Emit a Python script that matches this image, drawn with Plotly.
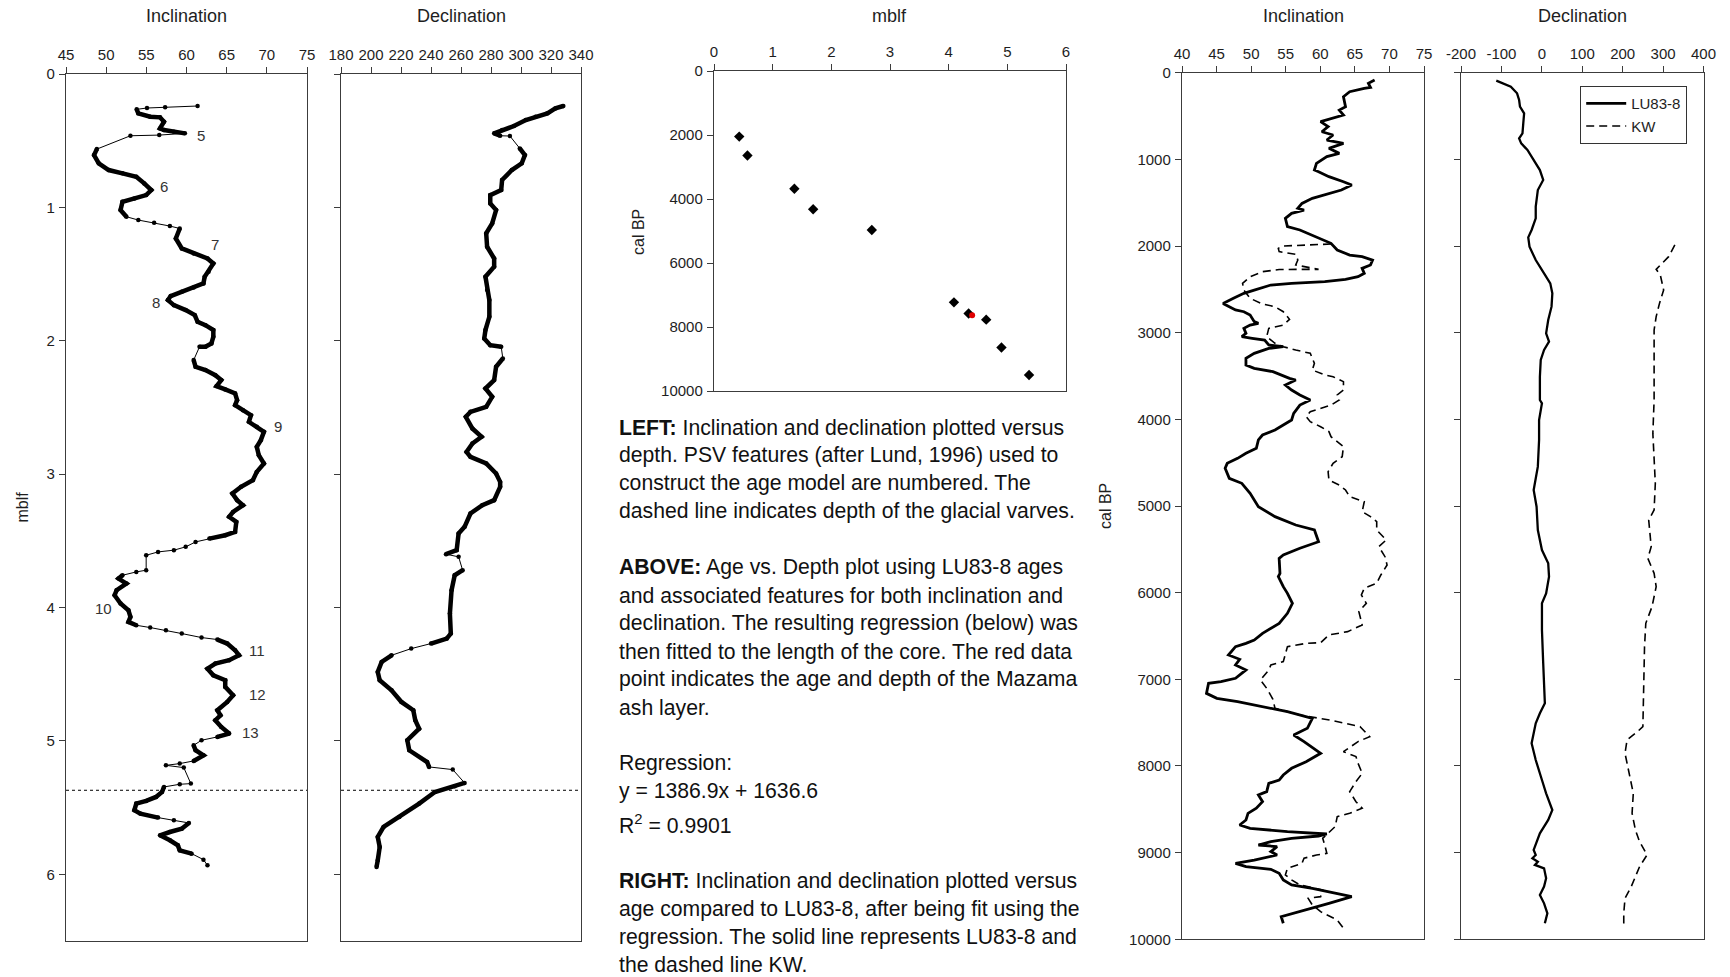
import plotly.graph_objects as go

W, H = 1730, 977

# ---------------- LEFT: inclination vs depth ----------------
inc_depth = [0.240, 0.250, 0.255, 0.265, 0.295, 0.320, 0.325, 0.358, 0.408, 0.420,
             0.433, 0.445, 0.458, 0.463, 0.563, 0.608, 0.670, 0.720, 0.745, 0.770,
             0.820, 0.870, 0.908, 0.933, 0.958, 1.020, 1.070, 1.095, 1.115, 1.140,
             1.158, 1.233, 1.308, 1.345, 1.383, 1.420, 1.483, 1.520, 1.570, 1.600,
             1.633, 1.665, 1.695, 1.733, 1.770, 1.808, 1.858, 1.883, 1.920, 1.970,
             2.020, 2.045, 2.045, 2.145, 2.195, 2.220, 2.258, 2.295, 2.340, 2.365,
             2.395, 2.445, 2.483, 2.520, 2.558, 2.608, 2.645, 2.683, 2.745, 2.795,
             2.858, 2.920, 2.983, 3.045, 3.095, 3.145, 3.195, 3.233, 3.283, 3.320,
             3.358, 3.433, 3.458, 3.483, 3.508, 3.545, 3.570, 3.583, 3.608, 3.720,
             3.733, 3.758, 3.783, 3.820, 3.870, 3.908, 3.970, 4.020, 4.070, 4.108,
             4.133, 4.150, 4.170, 4.195, 4.225, 4.240, 4.270, 4.320, 4.358, 4.395,
             4.420, 4.458, 4.508, 4.545, 4.595, 4.658, 4.708, 4.770, 4.808, 4.845,
             4.895, 4.945, 4.970, 4.995, 5.033, 5.070, 5.108, 5.150, 5.170, 5.183,
             5.200, 5.320, 5.325, 5.345, 5.383, 5.420, 5.450, 5.470, 5.520, 5.545,
             5.575, 5.595, 5.615, 5.658, 5.683, 5.708, 5.745, 5.783, 5.820, 5.845,
             5.890, 5.933]
inc_value = [61.38, 57.34, 55.08, 53.80, 54.00, 55.48, 56.70, 57.20, 56.70, 57.20,
             58.43, 59.80, 56.61, 53.02, 48.84, 48.49, 49.08, 50.31, 52.03, 53.75,
             54.74, 55.62, 54.98, 53.51, 52.03, 51.79, 52.52, 54.00, 55.97, 57.93,
             59.16, 58.67, 59.41, 60.89, 62.61, 63.34, 62.75, 62.26, 62.11, 60.89,
             59.41, 58.03, 57.69, 58.43, 59.90, 61.03, 61.38, 62.36, 63.34, 63.34,
             63.10, 62.36, 61.62, 60.89, 61.13, 62.36, 63.59, 64.33, 63.74, 64.82,
             66.05, 66.30, 66.05, 67.03, 68.02, 67.77, 68.75, 69.64, 69.25, 68.75,
             69.00, 69.64, 68.75, 68.26, 66.79, 65.71, 66.30, 67.03, 65.80, 65.31,
             66.20, 66.05, 64.82, 62.85, 61.13, 59.90, 58.43, 56.46, 54.98, 54.98,
             53.75, 52.03, 51.54, 52.52, 51.30, 51.05, 51.79, 52.77, 53.02, 52.77,
             53.75, 55.48, 57.44, 59.41, 61.87, 63.84, 65.07, 66.05, 66.54, 65.31,
             63.59, 62.61, 63.34, 64.82, 64.82, 65.80, 65.07, 63.84, 64.23, 63.59,
             64.33, 65.31, 63.84, 61.87, 60.89, 61.13, 62.11, 60.89, 59.16, 57.44,
             59.66, 60.54, 59.16, 57.20, 56.95, 56.21, 54.98, 53.75, 53.51, 54.25,
             56.46, 58.43, 60.30, 59.41, 57.93, 56.70, 57.93, 58.92, 59.16, 60.64,
             62.11, 62.61]
# segments (start index) drawn as thin connector between sparse samples
inc_thin = [0, 1, 2, 11, 12, 13, 26, 27, 28, 29, 52, 83, 84, 85, 86, 87, 88, 89, 90,
            100, 101, 102, 103, 104, 122, 123, 127, 128, 129, 130, 131, 132, 140, 141,
            149, 150]

# ---------------- LEFT: declination vs depth ----------------
dec_depth = [0.240, 0.258, 0.295, 0.320, 0.345, 0.390, 0.420, 0.445, 0.463, 0.465,
             0.558, 0.608, 0.670, 0.720, 0.795, 0.870, 0.908, 0.970, 1.020, 1.120,
             1.195, 1.295, 1.383, 1.445, 1.520, 1.620, 1.695, 1.820, 1.920, 1.983,
             2.033, 2.045, 2.133, 2.195, 2.295, 2.358, 2.420, 2.495, 2.533, 2.570,
             2.658, 2.720, 2.770, 2.833, 2.870, 2.920, 2.995, 3.058, 3.095, 3.195,
             3.233, 3.295, 3.395, 3.445, 3.570, 3.600, 3.620, 3.720, 3.758, 3.870,
             4.045, 4.195, 4.233, 4.270, 4.308, 4.358, 4.408, 4.483, 4.545, 4.620,
             4.708, 4.770, 4.845, 4.908, 4.995, 5.070, 5.158, 5.195, 5.215, 5.315,
             5.340, 5.383, 5.470, 5.570, 5.645, 5.720, 5.795, 5.895, 5.945]
dec_value = [328.2, 322.9, 317.6, 309.7, 303.2, 295.3, 287.4, 282.1, 286.1, 292.6,
             299.2, 302.6, 300.5, 293.9, 287.4, 286.8, 279.5, 279.5, 283.4, 280.8,
             276.8, 277.4, 282.1, 282.1, 276.3, 277.4, 278.9, 278.9, 276.3, 275.5,
             279.5, 286.8, 287.9, 283.4, 282.1, 276.3, 280.8, 276.8, 266.3, 263.2,
             267.6, 273.7, 267.6, 263.7, 266.3, 276.8, 283.4, 286.1, 286.1, 282.1,
             274.2, 266.3, 262.4, 258.4, 257.1, 250.0, 258.4, 261.1, 255.8, 253.7,
             252.6, 253.2, 250.5, 240.0, 226.8, 213.7, 207.1, 204.5, 205.8, 213.7,
             220.3, 228.2, 229.5, 232.1, 224.2, 225.5, 237.4, 238.7, 254.5, 262.4,
             255.8, 242.6, 232.1, 218.9, 208.4, 204.5, 205.8, 204.5, 203.7]
dec_thin = [8, 9, 31, 55, 56, 63, 64, 77, 78]

varve_depth = 5.37

feature_labels = ["5", "6", "7", "8", "9", "10", "11", "12", "13"]
feature_inc = [61.8, 57.2, 63.5, 56.2, 71.4, 49.7, 68.75, 68.85, 68.0]
feature_depth = [0.458, 0.84, 1.28, 1.71, 2.64, 4.008, 4.325, 4.65, 4.94]

# ---------------- MIDDLE: age vs depth ----------------
tie_depth = [0.43, 0.57, 1.37, 1.69, 2.69, 4.09, 4.34, 4.64, 4.90, 5.37]
tie_age = [2050, 2640, 3680, 4320, 4970, 7230, 7580, 7770, 8640, 9500]
mazama_depth = [4.40]
mazama_age = [7630]

# ---------------- RIGHT: inclination vs age ----------------
lu_inc_age = [85, 123, 169, 181, 219, 277, 392, 431, 488, 527, 565, 623, 681, 719, 777,
              815, 873, 931, 969, 1046, 1123, 1142, 1200, 1258, 1296, 1354, 1392, 1450,
              1508, 1565, 1585, 1623, 1681, 1777, 1815, 1873, 1931, 1969, 2046, 2104,
              2123, 2162, 2219, 2258, 2315, 2354, 2385, 2412, 2431, 2450, 2508, 2546,
              2604, 2662, 2700, 2738, 2758, 2796, 2873, 2892, 2912, 2950, 3008, 3046,
              3065, 3085, 3142, 3162, 3181, 3238, 3296, 3373, 3412, 3450, 3527, 3546,
              3604, 3662, 3719, 3777, 3835, 3931, 4008, 4065, 4123, 4181, 4238, 4335,
              4392, 4450, 4508, 4565, 4681, 4738, 4854, 5008, 5123, 5219, 5277, 5412,
              5488, 5565, 5604, 5777, 5815, 5931, 6008, 6123, 6238, 6354, 6469, 6546,
              6585, 6623, 6719, 6769, 6835, 6892, 6988, 7027, 7046, 7162, 7219, 7258,
              7315, 7373, 7450, 7565, 7642, 7719, 7854, 7950, 8027, 8104, 8162, 8200,
              8296, 8335, 8412, 8488, 8546, 8623, 8681, 8719, 8758, 8785, 8808, 8835,
              8873, 8912, 8931, 8988, 9027, 9085, 9123, 9162, 9192, 9238, 9315, 9373,
              9412, 9450, 9508, 9585, 9662, 9738, 9815]
lu_inc = [67.86, 66.96, 67.26, 66.36, 64.25, 63.35, 63.65, 62.75, 63.35, 61.85, 60.05,
          61.13, 60.23, 61.85, 60.95, 63.35, 61.25, 62.75, 60.95, 59.45, 59.15, 59.75,
          61.25, 63.35, 64.55, 63.05, 61.25, 58.85, 57.35, 56.75, 57.65, 55.85, 54.95,
          55.25, 57.05, 58.85, 60.65, 61.55, 62.45, 64.25, 66.05, 67.56, 67.26, 66.05,
          66.36, 65.46, 63.65, 60.65, 55.85, 52.85, 50.45, 48.95, 47.44, 45.94, 46.84,
          47.74, 48.95, 49.85, 50.45, 51.05, 49.85, 48.95, 49.25, 48.65, 50.15, 51.95,
          52.55, 54.65, 52.55, 50.45, 49.25, 49.25, 50.45, 53.15, 55.55, 56.45, 54.95,
          55.85, 57.05, 58.55, 57.05, 56.15, 55.85, 54.65, 53.45, 51.65, 51.05, 50.75,
          49.25, 48.04, 46.54, 46.24, 46.84, 48.65, 49.85, 51.05, 53.45, 56.45, 59.15,
          59.75, 57.05, 54.65, 54.05, 54.17, 53.93, 54.65, 55.25, 55.97, 55.25, 54.05,
          51.65, 50.45, 49.25, 47.74, 46.72, 48.34, 47.74, 49.25, 47.74, 45.64, 43.84,
          43.54, 45.04, 48.04, 51.65, 55.25, 58.85, 58.13, 56.15, 57.65, 60.05, 57.95,
          55.85, 54.65, 54.05, 52.55, 52.25, 51.05, 51.65, 50.75, 49.55, 49.25, 48.34,
          49.85, 55.25, 60.95, 59.75, 55.85, 52.85, 51.05, 53.75, 52.85, 53.75, 50.45,
          47.74, 49.25, 52.85, 54.05, 54.65, 55.85, 58.85, 61.25, 64.55, 61.25, 57.65,
          54.35, 54.65]

kw_inc_age = [1977, 1988, 1996, 2000, 2027, 2065, 2096, 2162, 2219, 2238, 2269, 2270,
              2271, 2296, 2354, 2431, 2508, 2604, 2669, 2700, 2758, 2846, 2912, 2950,
              3046, 3123, 3162, 3200, 3238, 3354, 3431, 3488, 3508, 3565, 3662, 3719,
              3777, 3835, 3873, 3912, 3969, 4027, 4085, 4142, 4200, 4258, 4315, 4431,
              4508, 4604, 4700, 4758, 4815, 4892, 4950, 5065, 5123, 5181, 5277, 5392,
              5469, 5585, 5681, 5796, 5892, 5950, 6027, 6123, 6219, 6373, 6450, 6488,
              6577, 6585, 6623, 6796, 6835, 6892, 7008, 7104, 7231, 7335, 7412, 7477,
              7546, 7662, 7719, 7835, 7892, 7969, 8085, 8181, 8296, 8412, 8488, 8546,
              8585, 8700, 8835, 8912, 9008, 9027, 9065, 9123, 9181, 9258, 9315, 9373,
              9431, 9508, 9527, 9604, 9681, 9777, 9873]
kw_inc = [61.55, 58.55, 56.45, 54.65, 53.93, 54.05, 56.45, 56.75, 56.45, 57.95, 59.75,
          56.45, 54.05, 51.65, 49.85, 48.76, 48.95, 49.85, 51.65, 53.45, 54.65, 55.55,
          54.65, 52.55, 52.25, 53.45, 54.65, 56.45, 58.55, 59.15, 58.85, 60.65, 61.85,
          63.35, 63.35, 62.45, 62.75, 61.55, 60.05, 58.55, 57.95, 58.55, 60.05, 61.25,
          61.55, 62.45, 63.35, 63.17, 61.85, 61.13, 61.25, 62.75, 63.65, 64.25, 66.36,
          66.06, 67.26, 68.16, 68.16, 69.54, 68.46, 69.36, 69.66, 68.76, 68.16, 66.36,
          65.94, 66.66, 65.58, 66.06, 63.95, 61.25, 60.05, 57.95, 55.25, 54.65, 52.85,
          52.55, 51.35, 52.25, 53.15, 53.45, 57.05, 61.85, 65.76, 67.14, 65.46, 63.35,
          65.16, 65.46, 66.06, 65.16, 64.25, 65.16, 66.06, 64.25, 62.45, 62.15, 60.35,
          60.65, 60.95, 59.45, 57.65, 57.35, 55.25, 54.95, 55.85, 57.05, 60.35, 60.05,
          58.25, 58.85, 60.05, 62.45, 63.35]

# ---------------- RIGHT: declination vs age ----------------
lu_dec_age = [92, 123, 162, 238, 315, 392, 469, 585, 700, 758, 815, 892, 1008, 1123,
              1238, 1354, 1546, 1681, 1815, 1900, 2008, 2162, 2315, 2431, 2546, 2700,
              2854, 3008, 3104, 3200, 3315, 3508, 3777, 3815, 4008, 4238, 4546, 4662,
              4815, 5008, 5277, 5508, 5662, 5815, 6008, 6123, 6431, 6815, 7277, 7392,
              7508, 7738, 7931, 8162, 8315, 8508, 8623, 8777, 8892, 8969, 9027, 9065,
              9104, 9142, 9181, 9296, 9392, 9488, 9585, 9700, 9815]
lu_dec = [-112.7, -97.3, -76.7, -61.3, -56.2, -54.1, -43.8, -45.9, -47.9, -56.2, -51.0,
          -35.6, -20.2, -4.8, 3.4, -9.9, -15.1, -15.1, -25.3, -33.6, -30.5, -15.1, 5.5,
          20.9, 26.0, 24.0, 15.8, 10.6, 17.8, 5.5, -2.7, -4.8, -4.8, 0.3, -6.8, -6.8,
          -9.9, -15.1, -20.2, -13.0, -9.9, 0.3, 15.8, 17.8, 10.6, 0.3, 0.3, 3.4, 7.5,
          -4.8, -15.1, -25.3, -15.1, 0.3, 10.6, 26.0, 15.8, -4.8, -15.1, -20.2, -15.1,
          -23.3, -9.9, -17.1, 5.5, 10.6, 5.5, -4.8, 5.5, 13.7, 7.5]

kw_dec_age = [1988, 2123, 2269, 2335, 2508, 2662, 2815, 2969, 3392, 3777, 4162, 4546,
              4738, 5046, 5162, 5469, 5604, 5777, 5931, 6162, 6354, 6623, 7008, 7546,
              7604, 7700, 7854, 8085, 8315, 8546, 8738, 8873, 9027, 9162, 9392, 9527,
              9700, 9873]
kw_dec = [329.1, 313.7, 282.9, 293.2, 301.4, 291.1, 282.9, 277.8, 277.8, 277.8, 274.7,
          277.8, 280.8, 277.8, 264.4, 270.6, 262.3, 277.8, 282.9, 272.6, 257.2, 254.1,
          252.1, 250.0, 236.6, 210.9, 205.8, 216.1, 226.3, 223.3, 231.5, 241.8, 260.3,
          241.8, 221.2, 205.8, 202.7, 202.7]

dec_age_ticks = [-200, -100, 0, 100, 200, 300, 400]
dec_age_ticktext = ["-200", "-100", "0", "100", "200", "300", "400"]

# ---------------- text ----------------
caption_lines = [
    ("<b>LEFT:</b> Inclination and declination plotted versus", 427.6),
    ("depth. PSV features (after Lund, 1996) used to", 455.2),
    ("construct the age model are numbered. The", 483.4),
    ("dashed line indicates depth of the glacial varves.", 511.2),
    ("<b>ABOVE:</b> Age vs. Depth plot using LU83-8 ages", 567.4),
    ("and associated features for both inclination and", 595.0),
    ("declination. The resulting regression (below) was", 623.4),
    ("then fitted to the length of the core. The red data", 651.6),
    ("point indicates the age and depth of the Mazama", 679.4),
    ("ash layer.", 707.8),
    ("Regression:", 763.4),
    ("y = 1386.9x + 1636.6", 790.6),
    ("R<sup>2</sup> = 0.9901", 824.0),
    ("<b>RIGHT:</b> Inclination and declination plotted versus", 881.0),
    ("age compared to LU83-8, after being fit using the", 909.4),
    ("regression. The solid line represents LU83-8 and", 937.2),
    ("the dashed line KW.", 964.6),
]

FONT = "Liberation Sans, Arial, sans-serif"
AX = "#3c3c3c"
TXT = "#1e1e1e"


def dom_x(a, b):
    return [a / W, b / W]


def dom_y(top, bottom):
    return [1 - bottom / H, 1 - top / H]


def split_thick(xs, ys, thin):
    bx, by = [], []
    for i in range(len(xs)):
        bx.append(xs[i])
        by.append(ys[i])
        if i in thin:
            bx.append(None)
            by.append(None)
    return bx, by


fig = go.Figure()

# panel 1
tx, ty = split_thick(inc_value, inc_depth, set(inc_thin))
fig.add_trace(go.Scatter(x=inc_value, y=inc_depth, mode="lines+markers",
                         line=dict(color="black", width=1),
                         marker=dict(color="black", size=4.5),
                         xaxis="x", yaxis="y", showlegend=False, hoverinfo="skip"))
fig.add_trace(go.Scatter(x=tx, y=ty, mode="lines", line=dict(color="black", width=4.5),
                         xaxis="x", yaxis="y", showlegend=False, hoverinfo="skip"))
# panel 2
tx, ty = split_thick(dec_value, dec_depth, set(dec_thin))
fig.add_trace(go.Scatter(x=dec_value, y=dec_depth, mode="lines+markers",
                         line=dict(color="black", width=1),
                         marker=dict(color="black", size=4.5),
                         xaxis="x2", yaxis="y2", showlegend=False, hoverinfo="skip"))
fig.add_trace(go.Scatter(x=tx, y=ty, mode="lines", line=dict(color="black", width=4.5),
                         xaxis="x2", yaxis="y2", showlegend=False, hoverinfo="skip"))
# panel 3
fig.add_trace(go.Scatter(x=tie_depth, y=tie_age, mode="markers",
                         marker=dict(symbol="diamond", color="black", size=8),
                         xaxis="x3", yaxis="y3", showlegend=False))
fig.add_trace(go.Scatter(x=mazama_depth, y=mazama_age, mode="markers",
                         marker=dict(symbol="circle", color="#e00000", size=6),
                         xaxis="x3", yaxis="y3", showlegend=False))
# panel 4
fig.add_trace(go.Scatter(x=kw_inc, y=kw_inc_age, mode="lines", name="KW",
                         line=dict(color="black", width=1.6, dash="8px,5px"),
                         xaxis="x4", yaxis="y4", showlegend=False))
fig.add_trace(go.Scatter(x=lu_inc, y=lu_inc_age, mode="lines", name="LU83-8",
                         line=dict(color="black", width=2.8),
                         xaxis="x4", yaxis="y4", showlegend=True, legendrank=1))
# panel 5
fig.add_trace(go.Scatter(x=lu_dec, y=lu_dec_age, mode="lines", name="LU83-8",
                         line=dict(color="black", width=2.3),
                         xaxis="x5", yaxis="y5", showlegend=False))
fig.add_trace(go.Scatter(x=kw_dec, y=kw_dec_age, mode="lines", name="KW",
                         line=dict(color="black", width=1.6, dash="8px,5px"),
                         xaxis="x5", yaxis="y5", showlegend=True, legendrank=2))

tickfont = dict(family=FONT, size=15, color=TXT)


def xax(domain, rng, dtick, anchor):
    return dict(domain=domain, range=rng, dtick=dtick, tick0=rng[0], side="top",
                anchor=anchor, ticks="outside", ticklen=6, tickcolor=AX, tickwidth=1.2,
                showline=True, linecolor=AX, linewidth=1.4, mirror=True,
                showgrid=False, zeroline=False, tickfont=tickfont, automargin=False,
                ticklabelstandoff=1, fixedrange=True, tickformat="d")


def yax(domain, rng, dtick, anchor, labels=True):
    return dict(domain=domain, range=rng, dtick=dtick, tick0=0, anchor=anchor,
                ticks="outside", ticklen=6, tickcolor=AX, tickwidth=1.2,
                showline=True, linecolor=AX, linewidth=1.4, mirror=True,
                showgrid=False, zeroline=False, tickfont=tickfont, automargin=False,
                showticklabels=labels, ticklabelstandoff=1, fixedrange=True,
                tickformat="d")


yL = dom_y(74, 941)
yR = dom_y(72.7, 939.3)
x5 = xax(dom_x(1461, 1703.5), [-200, 400], 100, "y5")
x5.update(tickmode="array", tickvals=dec_age_ticks, ticktext=dec_age_ticktext)
fig.update_layout(
    width=W, height=H,
    margin=dict(l=0, r=0, t=0, b=0, autoexpand=False),
    paper_bgcolor="white", plot_bgcolor="white",
    font=dict(family=FONT, color=TXT),
    xaxis=xax(dom_x(66, 307), [45, 75], 5, "y"),
    yaxis=yax(yL, [6.5, 0], 1, "x"),
    xaxis2=xax(dom_x(341, 581), [180, 340], 20, "y2"),
    yaxis2=yax(yL, [6.5, 0], 1, "x2", labels=False),
    xaxis3=xax(dom_x(714, 1066), [0, 6], 1, "y3"),
    yaxis3=yax(dom_y(71, 391), [10000, 0], 2000, "x3"),
    xaxis4=xax(dom_x(1182, 1424), [40, 75], 5, "y4"),
    yaxis4=yax(yR, [10000, 0], 1000, "x4"),
    xaxis5=x5,
    yaxis5=yax(yR, [10000, 0], 1000, "x5", labels=False),
    legend=dict(x=1580 / W, y=1 - 86 / H, xanchor="left", yanchor="top",
                bordercolor="#333", borderwidth=1.2, bgcolor="white",
                font=dict(family=FONT, size=15, color=TXT), itemwidth=40,
                tracegroupgap=0),
    shapes=[
        dict(type="line", xref="x domain", yref="y", x0=0, x1=1, y0=varve_depth,
             y1=varve_depth, line=dict(color="black", width=1, dash="dot")),
        dict(type="line", xref="x2 domain", yref="y2", x0=0, x1=1, y0=varve_depth,
             y1=varve_depth, line=dict(color="black", width=1, dash="dot")),
    ],
)

ann = []
# panel titles
for text, cx in [("Inclination", 186.5), ("Declination", 461), ("mblf", 889),
                 ("Inclination", 1303), ("Declination", 1582)]:
    ann.append(dict(text=text, x=cx / W, y=1 - 16 / H, xref="paper", yref="paper",
                    showarrow=False, xanchor="center", yanchor="middle",
                    font=dict(family=FONT, size=18, color=TXT)))
for text, cx, cy in [("mblf", 21.5, 507), ("cal BP", 638, 232), ("cal BP", 1105, 506)]:
    ann.append(dict(text=text, x=cx / W, y=1 - cy / H, xref="paper", yref="paper",
                    showarrow=False, textangle=-90, xanchor="center", yanchor="middle",
                    font=dict(family=FONT, size=16, color=TXT)))
for lab, xv, yv in zip(feature_labels, feature_inc, feature_depth):
    ann.append(dict(text=lab, x=xv, y=yv, xref="x", yref="y", showarrow=False,
                    xanchor="center", yanchor="middle",
                    font=dict(family=FONT, size=15, color="#333")))
for text, cy in caption_lines:
    ann.append(dict(text=text, x=617 / W, y=1 - cy / H, xref="paper", yref="paper",
                    showarrow=False, xanchor="left", yanchor="middle", align="left",
                    font=dict(family=FONT, size=21.2, color="#111")))
fig.update_layout(annotations=ann)

fig.write_html("out.html")
